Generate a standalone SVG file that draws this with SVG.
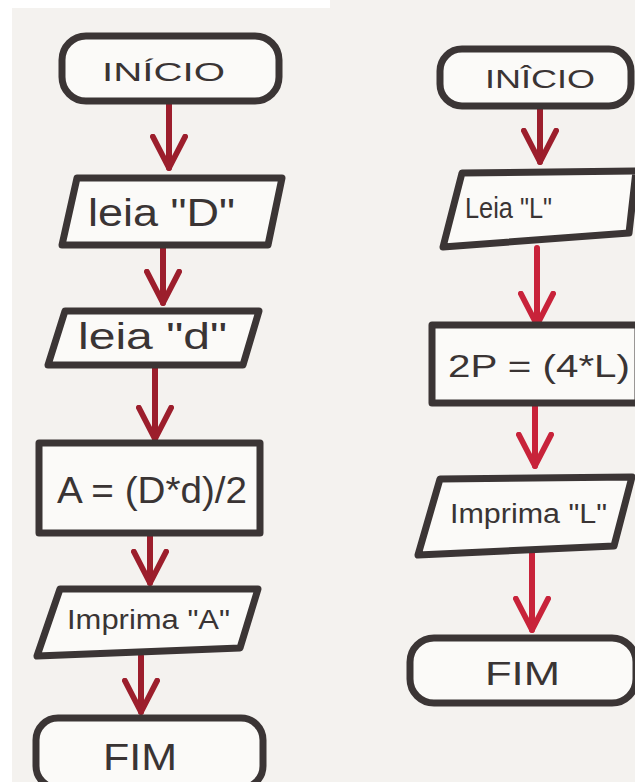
<svg xmlns="http://www.w3.org/2000/svg" width="635" height="782" viewBox="0 0 635 782">
<defs>
<style>
.box{fill:#fbfaf8;stroke:#3b3535;stroke-width:7;stroke-linejoin:round;stroke-linecap:round}
.lbl{font-family:"Liberation Sans","DejaVu Sans",sans-serif;fill:#3a3434}
.arr{stroke:#9c1e2c;stroke-width:6;fill:none;stroke-linecap:round}
.arr2{stroke:#c8233a;stroke-width:6;fill:none;stroke-linecap:round}
</style>
<marker id="ah" viewBox="0 0 40 40" refX="36" refY="20" markerWidth="38" markerHeight="38" markerUnits="userSpaceOnUse" orient="auto">
<path d="M3,3 L36,20 L3,37" fill="none" stroke="#9c1e2c" stroke-width="6" stroke-linecap="round" stroke-linejoin="round"/>
</marker>
<marker id="ah2" viewBox="0 0 40 40" refX="36" refY="20" markerWidth="38" markerHeight="38" markerUnits="userSpaceOnUse" orient="auto">
<path d="M3,3 L36,20 L3,37" fill="none" stroke="#c8233a" stroke-width="6" stroke-linecap="round" stroke-linejoin="round"/>
</marker>
</defs>
<rect x="0" y="0" width="635" height="782" fill="#f4f2ef"/>
<rect x="0" y="0" width="12" height="782" fill="#ffffff"/>
<rect x="0" y="0" width="330" height="8" fill="#ffffff"/>

<g id="connectors">
<line class="arr" x1="169" y1="102" x2="169" y2="168" marker-end="url(#ah)"/>
<line class="arr" x1="163" y1="246" x2="163" y2="303" marker-end="url(#ah)"/>
<line class="arr" x1="155" y1="367" x2="155" y2="439" marker-end="url(#ah)"/>
<line class="arr" x1="150" y1="534" x2="150" y2="583" marker-end="url(#ah)"/>
<line class="arr" x1="141" y1="656" x2="141" y2="712" marker-end="url(#ah)"/>
<line class="arr" x1="540" y1="108" x2="540" y2="162" marker-end="url(#ah)"/>
<line class="arr2" x1="537" y1="248" x2="537" y2="325" marker-end="url(#ah2)"/>
<line class="arr2" x1="535" y1="404" x2="535" y2="466" marker-end="url(#ah2)"/>
<line class="arr2" x1="532" y1="553" x2="532" y2="630" marker-end="url(#ah2)"/>
</g>

<g id="inicio1">
<rect class="box" x="62" y="36" width="217" height="65" rx="24"/>
<text class="lbl" x="102" y="81" font-size="25" textLength="123" lengthAdjust="spacingAndGlyphs">INÍCIO</text>
</g>
<g id="leiaD">
<path class="box" d="M77,178 L282,178 L268,245 L62,245 Z"/>
<text class="lbl" x="88" y="226" font-size="38" textLength="147" lengthAdjust="spacingAndGlyphs">leia "D"</text>
</g>
<g id="leiad">
<path class="box" d="M65,311 L259,311 L243,365 L48,365 Z"/>
<text class="lbl" x="78" y="349" font-size="36" textLength="149" lengthAdjust="spacingAndGlyphs">leia "d"</text>
</g>
<g id="calcA">
<rect class="box" x="39" y="443" width="221" height="90"/>
<text class="lbl" x="57" y="503" font-size="36" textLength="190" lengthAdjust="spacingAndGlyphs">A = (D*d)/2</text>
</g>
<g id="imprimeA">
<path class="box" d="M60,589 L258,589 L240,648 L37,656 Z"/>
<text class="lbl" x="67" y="629" font-size="27" textLength="163" lengthAdjust="spacingAndGlyphs">Imprima "A"</text>
</g>
<g id="fim1">
<rect class="box" x="36" y="718" width="227" height="70" rx="22"/>
<text class="lbl" x="103" y="770" font-size="36" textLength="74" lengthAdjust="spacingAndGlyphs">FIM</text>
</g>

<g id="inicio2">
<rect class="box" x="440" y="49" width="191" height="57" rx="22"/>
<text class="lbl" x="485" y="88" font-size="26" textLength="110" lengthAdjust="spacingAndGlyphs">INÎCIO</text>
</g>
<g id="leiaL">
<path class="box" d="M462,173 L636,171 L629,233 L443,247 Z"/>
<text class="lbl" x="465" y="218" font-size="30" textLength="87" lengthAdjust="spacingAndGlyphs">Leia "L"</text>
</g>
<g id="calc2P">
<rect class="box" x="432" y="325" width="206" height="78"/>
<text class="lbl" x="448" y="377" font-size="31" textLength="182" lengthAdjust="spacingAndGlyphs">2P = (4*L)</text>
</g>
<g id="imprimeL">
<path class="box" d="M440,479 L632,477 L614,546 L418,555 Z"/>
<text class="lbl" x="450" y="523" font-size="27" textLength="157" lengthAdjust="spacingAndGlyphs">Imprima "L"</text>
</g>
<g id="fim2">
<rect class="box" x="410" y="638" width="226" height="65" rx="24"/>
<text class="lbl" x="485" y="685" font-size="33" textLength="75" lengthAdjust="spacingAndGlyphs">FIM</text>
</g>
</svg>
